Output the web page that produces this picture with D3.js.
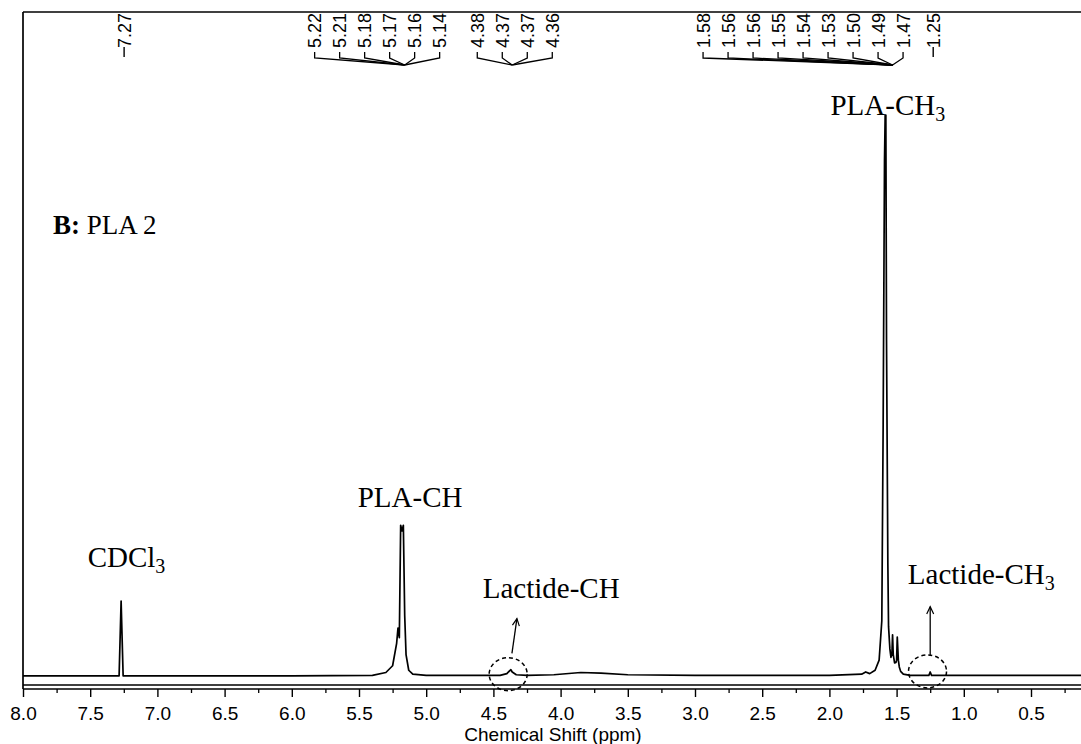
<!DOCTYPE html>
<html>
<head>
<meta charset="utf-8">
<script src="https://cdn.jsdelivr.net/npm/d3@7"></script>
<style>
  html, body { margin: 0; padding: 0; background: #fff; }
  svg { display: block; }
</style>
</head>
<body>
<svg id="chart" width="1081" height="744"></svg>
<script>
// ---------- DATA ----------
const axisTicks = [8.0, 7.5, 7.0, 6.5, 6.0, 5.5, 5.0, 4.5, 4.0, 3.5, 3.0, 2.5, 2.0, 1.5, 1.0, 0.5];
const minorTicks = [7.75, 7.25, 6.75, 6.25, 5.75, 5.25, 4.75, 4.25, 3.75, 3.25, 2.75, 2.25, 1.75, 1.25, 0.75, 0.25];

// spectrum trace (ppm, relative intensity)
const spectrumPpm = [8.00, 7.40, 7.285, 7.27, 7.255, 6.00, 5.40, 5.30, 5.25, 5.22, 5.21, 5.20, 5.19, 5.18, 5.175, 5.17, 5.16, 5.15, 5.13, 5.10, 5.00,
  4.55, 4.45, 4.40, 4.38, 4.37, 4.36, 4.33, 4.25, 4.05, 3.85, 3.70, 3.50, 3.00, 2.00, 1.76, 1.73, 1.70, 1.66, 1.63, 1.61, 1.60, 1.59, 1.585, 1.58, 1.575, 1.565,
  1.56, 1.55, 1.542, 1.535, 1.53, 1.525, 1.515, 1.505, 1.50, 1.495, 1.487, 1.48, 1.47, 1.45, 1.40, 1.30, 1.26, 1.25, 1.24, 1.20, 0.80, 0.30, -0.20];
const spectrumInt = [0.2, 0.2, 0.2, 13.5, 0.2, 0.2, 0.3, 0.8, 2.0, 6.0, 8.7, 7.0, 27.0, 26.0, 26.5, 27.0, 11.0, 4.0, 1.2, 0.5, 0.3,
  0.3, 0.3, 0.6, 1.1, 1.3, 0.9, 0.4, 0.3, 0.4, 0.8, 0.7, 0.4, 0.3, 0.3, 0.5, 0.9, 0.6, 1.2, 3.0, 10.0, 45.0, 92.0, 100.0, 100.0, 60.0, 20.0,
  9.0, 5.0, 3.5, 4.0, 7.5, 4.0, 2.5, 2.6, 3.0, 7.1, 3.0, 1.8, 1.0, 0.5, 0.3, 0.3, 0.3, 0.9, 0.3, 0.3, 0.3, 0.3, 0.3];

// peak label groups (labels printed at top, and the shift they point to)
const groupLabels = [
  ["7.27"],
  ["5.22", "5.21", "5.18", "5.17", "5.16", "5.14"],
  ["4.38", "4.37", "4.37", "4.36"],
  ["1.58", "1.56", "1.56", "1.55", "1.54", "1.53", "1.50", "1.49", "1.47"],
  ["1.25"]
];
const groupPeakPpm = [7.27, 5.16, 4.36, 1.53, 1.25];
const groupFirstPpm = [7.27, 5.83, 4.62, 2.94, 1.25];   // shift under the first label of each group

// assignment annotations
const annotText = ["CDCl", "PLA-CH", "Lactide-CH", "PLA-CH", "Lactide-CH"];
const annotSub = ["3", "", "", "3", "3"];
const annotPpm = [7.23, 5.12, 4.07, 1.565, 0.87];
const annotInt = [19.6, 30.2, 14.1, 100.0, 16.5];

// circled impurity peaks with arrows
const circlePpm = [4.39, 1.27];
const circleInt = [0.5, 1.0];
const arrowFromPpm = [4.362, 1.25];
const arrowToPpm = [4.325, 1.25];
const arrowFromInt = [4.2, 3.8];
const arrowToInt = [10.4, 12.5];

// ---------- LAYOUT ----------
const svg = d3.select("#chart");
const mLeft = 23, mRight = 1081, mTop = 12, baseY = 677, boxY = 685, axisY = 689;
const sans = "Liberation Sans, Arial, sans-serif";
const serif = "Liberation Serif, Times New Roman, serif";

const x = d3.scaleLinear().domain([8.0, 0.5]).range([mLeft, 1031]);
const y = d3.scaleLinear().domain([0, 100]).range([baseY, 115]);

// frame
svg.append("line").attr("x1", mLeft).attr("x2", mLeft).attr("y1", mTop).attr("y2", axisY)
  .attr("stroke", "#000").attr("stroke-width", 1.7);
svg.append("line").attr("x1", mLeft).attr("x2", mRight).attr("y1", mTop).attr("y2", mTop)
  .attr("stroke", "#000").attr("stroke-width", 1.3);
svg.append("line").attr("x1", mLeft).attr("x2", mRight).attr("y1", boxY).attr("y2", boxY)
  .attr("stroke", "#000").attr("stroke-width", 1.3);

// axis
const axis = d3.axisBottom(x).tickValues(axisTicks).tickFormat(d3.format(".1f"))
  .tickSize(8).tickSizeOuter(0).tickPadding(10);
const gAxis = svg.append("g").attr("transform", `translate(0,${axisY})`).call(axis);
gAxis.select(".domain").attr("d", `M${mLeft},0H${mRight}`).attr("stroke-width", 1.5);
gAxis.selectAll(".tick line").attr("stroke-width", 1.4);
gAxis.selectAll(".tick text").attr("font-family", sans)
  .attr("font-size", 19).attr("fill", "#000");
const minor = d3.axisBottom(x).tickValues(minorTicks).tickFormat("").tickSize(4).tickSizeOuter(0);
const gMinor = svg.append("g").attr("transform", `translate(0,${axisY})`).call(minor);
gMinor.select(".domain").remove();
gMinor.selectAll(".tick line").attr("stroke-width", 1.3);

svg.append("text").attr("x", 553).attr("y", 741).attr("text-anchor", "middle")
  .attr("font-family", sans).attr("font-size", 19)
  .text("Chemical Shift (ppm)");

// spectrum
const pts = spectrumPpm.map((p, i) => [p, spectrumInt[i]]);
const line = d3.line().x(d => x(d[0])).y(d => y(d[1])).curve(d3.curveLinear);
svg.append("path").attr("d", line(pts)).attr("fill", "none").attr("stroke", "#000")
  .attr("stroke-width", 1.7).attr("stroke-linejoin", "round");

// top peak labels with converging leaders
const labelSpacing = 25;
const labelBottom = 48, hookY = 58, convY = 65;
groupLabels.forEach((labs, gi) => {
  const px = x(groupPeakPpm[gi]);
  const x0 = x(groupFirstPpm[gi]);
  const g = svg.append("g");
  labs.forEach((t, i) => {
    const lx = labs.length === 1 ? px + 3 : x0 + i * labelSpacing;
    g.append("text")
      .attr("transform", `translate(${lx + 6.5},${labelBottom}) rotate(-90)`)
      .attr("font-family", sans).attr("font-size", 18)
      .text(t);
    if (labs.length === 1) {
      g.append("line").attr("x1", lx).attr("x2", lx).attr("y1", labelBottom - 1).attr("y2", convY - 8)
        .attr("stroke", "#000").attr("stroke-width", 1.4);
    } else {
      g.append("path")
        .attr("d", `M${lx},${labelBottom + 4}L${lx},${hookY}L${px},${convY}`)
        .attr("fill", "none").attr("stroke", "#000").attr("stroke-width", 1.3);
    }
  });
});

// annotations
annotText.forEach((t, i) => {
  const txt = svg.append("text").attr("x", x(annotPpm[i])).attr("y", y(annotInt[i]))
    .attr("text-anchor", "middle")
    .attr("font-family", serif).attr("font-size", 29)
    .text(t);
  if (annotSub[i]) {
    txt.append("tspan").attr("font-size", 20).attr("dy", 6).text(annotSub[i]);
  }
});

// sample label
const lab = svg.append("text").attr("x", 53).attr("y", 234)
  .attr("font-family", serif).attr("font-size", 27);
lab.append("tspan").attr("font-weight", "bold").text("B:");
lab.append("tspan").text(" PLA 2");

// dashed circles and arrows
circlePpm.forEach((p, i) => {
  svg.append("ellipse").attr("cx", x(p)).attr("cy", y(circleInt[i]))
    .attr("rx", 19).attr("ry", 16.5)
    .attr("fill", "none").attr("stroke", "#000").attr("stroke-width", 1.5)
    .attr("stroke-dasharray", "4,3");
  const x1 = x(arrowFromPpm[i]), y1 = y(arrowFromInt[i]);
  const x2 = x(arrowToPpm[i]), y2 = y(arrowToInt[i]);
  svg.append("line").attr("x1", x1).attr("y1", y1).attr("x2", x2).attr("y2", y2)
    .attr("stroke", "#000").attr("stroke-width", 1.3);
  const ang = Math.atan2(y2 - y1, x2 - x1);
  const len = 8, spread = 0.45;
  svg.append("path")
    .attr("d", `M${x2 - len * Math.cos(ang - spread)},${y2 - len * Math.sin(ang - spread)}L${x2},${y2}L${x2 - len * Math.cos(ang + spread)},${y2 - len * Math.sin(ang + spread)}`)
    .attr("fill", "none").attr("stroke", "#000").attr("stroke-width", 1.2);
});
</script>
</body>
</html>
